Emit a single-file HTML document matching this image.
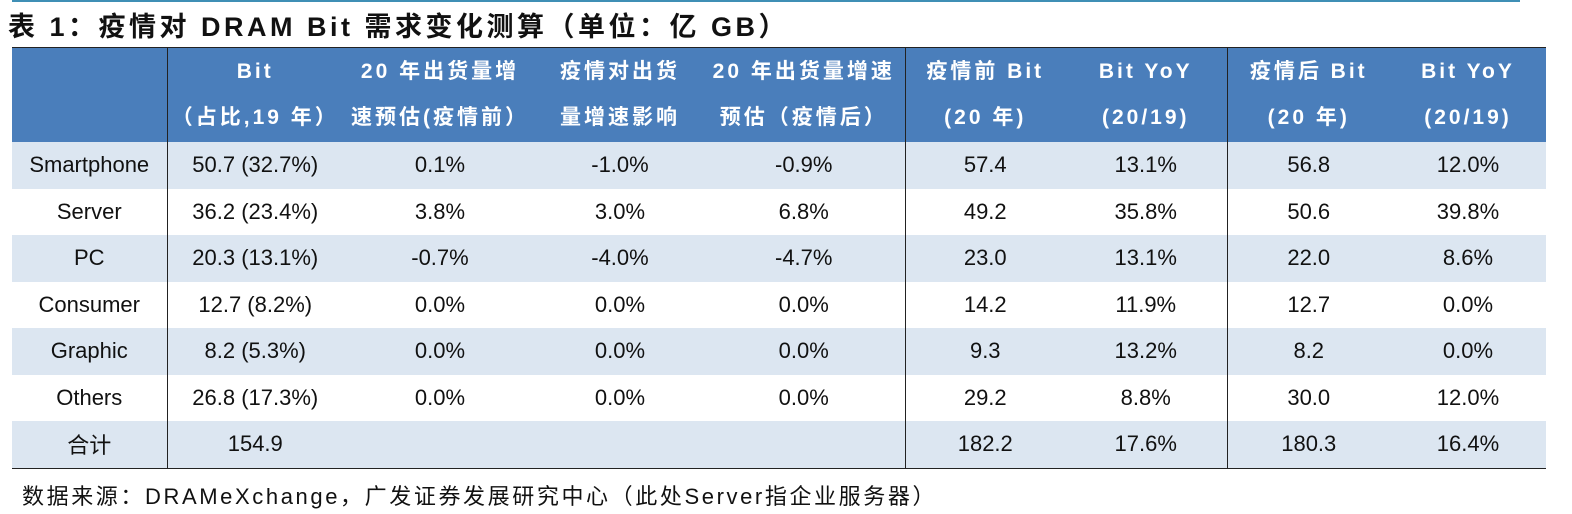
<!DOCTYPE html>
<html><head><meta charset="utf-8"><style>
body{margin:0;width:1572px;height:514px;background:#fff;overflow:hidden;font-family:"Liberation Sans","Noto Sans CJK SC",sans-serif;position:relative}
#topline{position:absolute;left:12px;top:0;width:1508px;height:2px;background:#3f8fb5}
#title{position:absolute;left:8px;top:5px;font-size:27px;font-weight:bold;color:#111;white-space:nowrap;letter-spacing:3.5px}
table{position:absolute;left:12px;top:47px;border-collapse:collapse;table-layout:fixed;width:1534px}
td,th{text-align:center;padding:0;font-size:22px;color:#111;font-weight:normal;white-space:nowrap}
th{background:#4a7ebb;color:#fff;font-weight:bold;font-size:21px;line-height:46px;height:94px;letter-spacing:3px}
thead tr{border-top:1px solid #222}
tbody td{height:46.5px}
tbody tr.l td{background:#dce6f1}
.v{border-left:1.5px solid #222}
tbody tr:last-child td{border-bottom:1.5px solid #222}
#src{position:absolute;left:22px;top:479px;font-size:22px;color:#111;white-space:nowrap;letter-spacing:2.6px}
</style></head><body>
<div id="topline"></div>
<div id="title">表 1：疫情对 DRAM Bit 需求变化测算（单位：亿 GB）</div>
<table>
<colgroup><col style="width:155px"><col style="width:176px"><col style="width:194px"><col style="width:166px"><col style="width:202px"><col style="width:160px"><col style="width:162px"><col style="width:163px"><col style="width:156px"></colgroup>
<thead><tr>
<th></th>
<th class="v">Bit<br>（占比,19 年）</th>
<th>20 年出货量增<br>速预估(疫情前）</th>
<th>疫情对出货<br>量增速影响</th>
<th>20 年出货量增速<br>预估（疫情后）</th>
<th class="v">疫情前 Bit<br>(20 年)</th>
<th>Bit YoY<br>(20/19)</th>
<th class="v">疫情后 Bit<br>(20 年)</th>
<th>Bit YoY<br>(20/19)</th>
</tr></thead>
<tbody>
<tr class="l"><td>Smartphone</td><td class="v">50.7 (32.7%)</td><td>0.1%</td><td>-1.0%</td><td>-0.9%</td><td class="v">57.4</td><td>13.1%</td><td class="v">56.8</td><td>12.0%</td></tr>
<tr><td>Server</td><td class="v">36.2 (23.4%)</td><td>3.8%</td><td>3.0%</td><td>6.8%</td><td class="v">49.2</td><td>35.8%</td><td class="v">50.6</td><td>39.8%</td></tr>
<tr class="l"><td>PC</td><td class="v">20.3 (13.1%)</td><td>-0.7%</td><td>-4.0%</td><td>-4.7%</td><td class="v">23.0</td><td>13.1%</td><td class="v">22.0</td><td>8.6%</td></tr>
<tr><td>Consumer</td><td class="v">12.7 (8.2%)</td><td>0.0%</td><td>0.0%</td><td>0.0%</td><td class="v">14.2</td><td>11.9%</td><td class="v">12.7</td><td>0.0%</td></tr>
<tr class="l"><td>Graphic</td><td class="v">8.2 (5.3%)</td><td>0.0%</td><td>0.0%</td><td>0.0%</td><td class="v">9.3</td><td>13.2%</td><td class="v">8.2</td><td>0.0%</td></tr>
<tr><td>Others</td><td class="v">26.8 (17.3%)</td><td>0.0%</td><td>0.0%</td><td>0.0%</td><td class="v">29.2</td><td>8.8%</td><td class="v">30.0</td><td>12.0%</td></tr>
<tr class="l"><td>合计</td><td class="v">154.9</td><td></td><td></td><td></td><td class="v">182.2</td><td>17.6%</td><td class="v">180.3</td><td>16.4%</td></tr>
</tbody></table>
<div id="src">数据来源：DRAMeXchange，广发证券发展研究中心（此处Server指企业服务器）</div>
</body></html>
